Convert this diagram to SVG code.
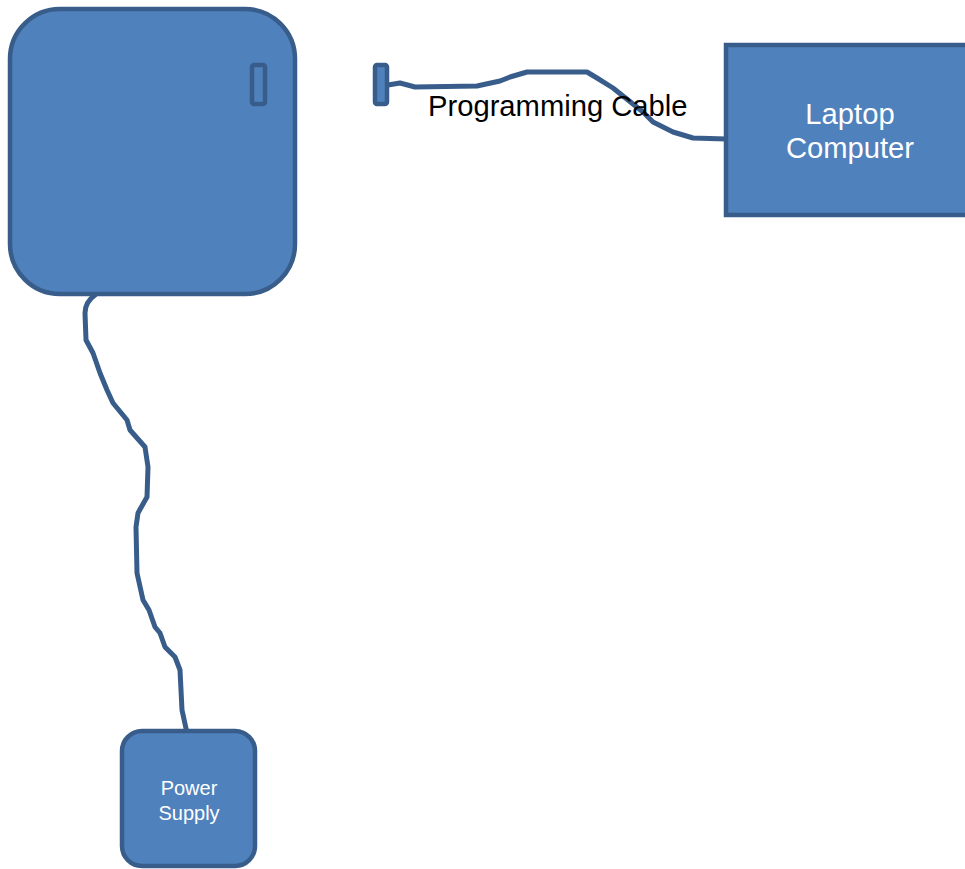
<svg xmlns="http://www.w3.org/2000/svg" width="965" height="869" viewBox="0 0 965 869">
<style>
.box{fill:#4f81bd;stroke:#385d8a;stroke-width:4.5}
.cable{fill:none;stroke:#385d8a;stroke-width:5;stroke-linecap:round;stroke-linejoin:round}
.wt{fill:#fff;font-family:"Liberation Sans",Arial,sans-serif;text-anchor:middle}
.bt{fill:#000;font-family:"Liberation Sans",Arial,sans-serif}
</style>
<rect width="965" height="869" fill="#fff"/>
<g id="connectors">
<path class="cable" d="M95,295 C88,300 85,305 85,313 L86,340 L93,353 L100,373 L107,390 L113,403 L127,420 L130,430 L145,447 L148,467 L147,497 L138,513 L136,527 L137,573 L143,600 L149,610 L155,627 L160,633 L165,647 L175,657 L180,670 L182,710 L187,733"/>
<path class="cable" d="M388,85 L400,83 L415,87 L477,86 L500,81 L510,77 L527,72 L587,72 L597,78 L613,88 L643,112 L653,122 L673,132 L693,138 L726,139"/>
</g>
<g id="controller">
<rect class="box" x="10" y="9" width="285" height="285" rx="50" ry="50"/>
<rect class="box" x="252" y="65" width="13" height="39" rx="2" ry="2"/>
</g>
<g id="cable-plug">
<rect class="box" x="375" y="65" width="12" height="39" rx="2" ry="2"/>
<text class="bt" x="428" y="116" font-size="29.2">Programming Cable</text>
</g>
<g id="laptop">
<rect class="box" x="726" y="45" width="260" height="170"/>
<text class="wt" x="850" y="124" font-size="29.2">Laptop</text>
<text class="wt" x="850" y="158" font-size="29.2">Computer</text>
</g>
<g id="power-supply">
<rect class="box" x="122" y="731" width="133" height="135" rx="20" ry="20"/>
<text class="wt" x="189" y="795" font-size="20">Power</text>
<text class="wt" x="189" y="820" font-size="20">Supply</text>
</g>
</svg>
